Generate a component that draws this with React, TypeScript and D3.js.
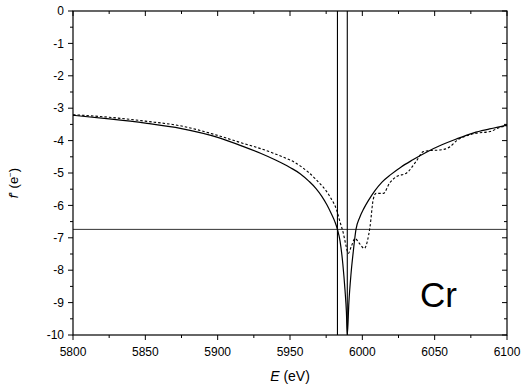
import React from "react";
import * as d3 from "d3";

// Anomalous scattering factor f' of Cr around the K edge
const energyTheory = [5800, 5825, 5850, 5875, 5900, 5917, 5930, 5940, 5950, 5957, 5963, 5968, 5972, 5975.5, 5978.5, 5981, 5982.8, 5984.6, 5986.5, 5988, 5989, 5989.6, 5990.7, 5992.2, 5993.8, 5995.6, 5998.1, 6001, 6004.6, 6008.6, 6013.6, 6019.6, 6026.6, 6034.6, 6044.6, 6055, 6065, 6077, 6088, 6100];
const fTheory = [-3.22, -3.33, -3.46, -3.63, -3.9, -4.17, -4.4, -4.6, -4.83, -5.02, -5.25, -5.48, -5.72, -5.98, -6.25, -6.5, -6.74, -7.1, -7.8, -8.6, -9.3, -10, -9.0, -8.1, -7.4, -6.74, -6.38, -6.1, -5.82, -5.55, -5.28, -5.05, -4.82, -4.6, -4.35, -4.13, -3.95, -3.76, -3.64, -3.52];

const energyMeasured = [5800, 5825, 5850, 5875, 5897, 5915, 5938, 5957, 5968, 5977.6, 5982.2, 5984.5, 5986.8, 5988.5, 5990.3, 5992.5, 5994.9, 5997.9, 6001.4, 6003.5, 6005.3, 6007.6, 6009.5, 6014.5, 6019, 6023.7, 6030.6, 6037.5, 6042.1, 6045.6, 6053.7, 6060.6, 6065.2, 6072.1, 6079, 6088.2, 6095.2, 6100];
const fMeasured = [-3.2, -3.28, -3.4, -3.55, -3.8, -4.05, -4.38, -4.78, -5.2, -5.73, -6.14, -6.5, -6.85, -7.2, -7.48, -7.25, -7.02, -7.17, -7.33, -7.1, -6.66, -5.8, -5.63, -5.63, -5.3, -5.11, -5.0, -4.62, -4.34, -4.31, -4.29, -4.19, -4.0, -3.85, -3.77, -3.72, -3.59, -3.54];

// Reference markers
const markerEnergies = [5982.8, 5989.6];
const markerF = -6.74;

const xDomain = [5800, 6100];
const yDomain = [-10, 0];
const xMajorTicks = [5800, 5850, 5900, 5950, 6000, 6050, 6100];
const yMajorTicks = [0, -1, -2, -3, -4, -5, -6, -7, -8, -9, -10];
const elementLabel = "Cr";

const W = 524;
const H = 392;
const left = 73;
const right = 507;
const top = 11;
const bottom = 335;
const font = "Arial, 'Liberation Sans', sans-serif";

export default function App() {
  const x = d3.scaleLinear().domain(xDomain).range([left, right]);
  const y = d3.scaleLinear().domain(yDomain).range([bottom, top]);

  const line = d3
    .line<[number, number]>()
    .x((d) => x(d[0]))
    .y((d) => y(d[1]))
    .curve(d3.curveMonotoneX);

  const theory = energyTheory.map((e, i) => [e, fTheory[i]] as [number, number]);
  const measured = energyMeasured.map((e, i) => [e, fMeasured[i]] as [number, number]);

  const xMinor = d3.range(xDomain[0], xDomain[1] + 0.1, 25).filter((v) => !xMajorTicks.includes(v));
  const yMinor = d3.range(yDomain[0], yDomain[1] + 0.01, 0.5).filter((v) => !yMajorTicks.includes(v));

  return (
    <svg width={W} height={H} style={{ position: "absolute", left: 0, top: 0, background: "#fff" }}>
      <defs>
        <clipPath id="plot">
          <rect x={left} y={top} width={right - left} height={bottom - top} />
        </clipPath>
      </defs>

      <g clipPath="url(#plot)">
        <line x1={left} x2={right} y1={y(markerF)} y2={y(markerF)} stroke="#333" strokeWidth={1} />
        {markerEnergies.map((e) => (
          <line key={e} x1={x(e)} x2={x(e)} y1={top} y2={bottom} stroke="#000" strokeWidth={1.1} />
        ))}
        <path d={line(measured) || ""} fill="none" stroke="#000" strokeWidth={1.1} strokeDasharray="2.5,2" />
        <path d={line(theory) || ""} fill="none" stroke="#000" strokeWidth={1.2} />
      </g>

      {/* frame */}
      <rect x={left} y={top} width={right - left} height={bottom - top} fill="none" stroke="#000" strokeWidth={1.2} />

      {/* bottom & top ticks */}
      {xMajorTicks.map((v) => (
        <g key={"xm" + v}>
          <line x1={x(v)} x2={x(v)} y1={bottom} y2={bottom + 5} stroke="#000" />
          <line x1={x(v)} x2={x(v)} y1={top} y2={top + 5} stroke="#000" />
          <text x={x(v)} y={356} textAnchor="middle" fontSize={12} fontFamily={font} fill="#000">
            {v}
          </text>
        </g>
      ))}
      {xMinor.map((v) => (
        <g key={"xn" + v}>
          <line x1={x(v)} x2={x(v)} y1={bottom} y2={bottom + 3} stroke="#000" />
          <line x1={x(v)} x2={x(v)} y1={top} y2={top + 3} stroke="#000" />
        </g>
      ))}

      {/* left & right ticks */}
      {yMajorTicks.map((v) => (
        <g key={"ym" + v}>
          <line x1={left - 5} x2={left} y1={y(v)} y2={y(v)} stroke="#000" />
          <line x1={right - 5} x2={right} y1={y(v)} y2={y(v)} stroke="#000" />
          <text x={64} y={y(v) + 4.2} textAnchor="end" fontSize={12} fontFamily={font} fill="#000">
            {v}
          </text>
        </g>
      ))}
      {yMinor.map((v) => (
        <g key={"yn" + v}>
          <line x1={left - 3} x2={left} y1={y(v)} y2={y(v)} stroke="#000" />
          <line x1={right - 3} x2={right} y1={y(v)} y2={y(v)} stroke="#000" />
        </g>
      ))}

      {/* axis titles */}
      <text x={(left + right) / 2} y={381} textAnchor="middle" fontSize={14} fontFamily={font} fill="#000">
        <tspan fontStyle="italic">E</tspan>
        <tspan> (eV)</tspan>
      </text>
      <text
        transform={`translate(18, 183) rotate(-90)`}
        textAnchor="middle"
        fontSize={13}
        fontFamily={font}
        fill="#000"
      >
        <tspan fontStyle="italic">f</tspan>
        <tspan>' (e</tspan>
        <tspan fontSize={8} dy={-5}>−</tspan>
        <tspan dy={5}>)</tspan>
      </text>

      <text x={420} y={307} fontSize={35} fontFamily={font} fill="#000">
        {elementLabel}
      </text>
    </svg>
  );
}
